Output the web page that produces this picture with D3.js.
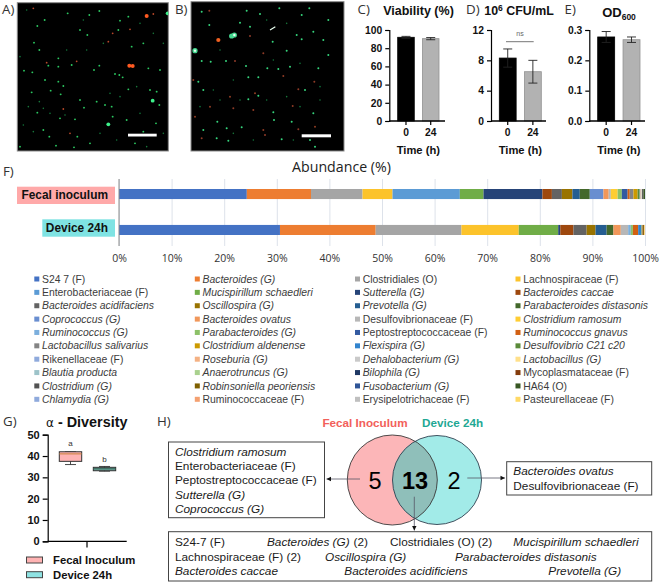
<!DOCTYPE html>
<html><head><meta charset="utf-8">
<script src="https://cdnjs.cloudflare.com/ajax/libs/d3/7.8.5/d3.min.js"></script>
<style>html,body{margin:0;padding:0;background:#fff}svg{display:block}text{font-family:"Liberation Sans",Arial,sans-serif}</style>
</head><body><svg id="c" width="661" height="583"></svg>
<script>
// ---------- data ----------
const timeCategories = ["0","24"];
const viabilityValues = [92,90.5];
const viabilityErrors = [1,1.2];
const viabilityTicks = [0,20,40,60,80,100];
const cfuValues = [8.3,6.5];
const cfuErrors = [1.2,1.5];
const cfuTicks = [0,4,8,12];
const odValues = [0.277,0.268];
const odErrors = [0.018,0.009];
const odTicks = [0,0.1,0.2,0.3];
const samples = ["Fecal inoculum","Device 24h"];
const species = ["S24 7 (F)","Bacteroides (G)","Clostridiales (O)","Lachnospiraceae (F)","Enterobacteriaceae (F)","Mucispirillum schaedleri","Sutterella (G)","Bacteroides caccae","Bacteroides acidifaciens","Oscillospira (G)","Prevotella (G)","Parabacteroides distasonis","Coprococcus (G)","Bacteroides ovatus","Desulfovibrionaceae (F)","Clostridium ramosum","Ruminococcus (G)","Parabacteroides (G)","Peptostreptococcaceae (F)","Ruminococcus gnavus","Lactobacillus salivarius","Clostridium aldenense","Flexispira (G)","Desulfovibrio C21 c20","Rikenellaceae (F)","Roseburia (G)","Dehalobacterium (G)","Lactobacillus (G)","Blautia producta","Anaerotruncus (G)","Bilophila (G)","Mycoplasmataceae (F)","Clostridium (G)","Robinsoniella peoriensis","Fusobacterium (G)","HA64 (O)","Chlamydia (G)","Ruminococcaceae (F)","Erysipelotrichaceae (F)","Pasteurellaceae (F)"];
const uprightSpecies = ["S24 7 (F)","Clostridiales (O)","Lachnospiraceae (F)","Enterobacteriaceae (F)","Desulfovibrionaceae (F)","Peptostreptococcaceae (F)","Rikenellaceae (F)","Mycoplasmataceae (F)","HA64 (O)","Ruminococcaceae (F)","Erysipelotrichaceae (F)","Pasteurellaceae (F)"];
const fecalAbundance = [24.3,12.2,9.8,5.7,12.8,4.5,11.2,1.8,1.9,2.0,1.4,1.9,2.6,1.0,0.4,1.3,0,0.8,1.1,0.4,0.7,0.8,0,0.4,0.15,0.1,0.1,0.05,0.05,0,0,0,0.25,0,0,0.3,0,0,0,0];
const deviceAbundance = [30.6,18.2,16.3,10.9,0,7.5,0.4,2.5,2.5,1.7,2.1,1.3,0,1.4,1.4,0,0.5,0.4,0,1.0,0,0,0.6,0.1,0,0,0,0.1,0,0,0,0.1,0,0.2,0,0,0,0.1,0,0.1];
const speciesColors = ["#4472c4","#ed7d31","#a5a5a5","#fcc32b","#5b9bd5","#70ad47","#264478","#9e480e","#636363","#997300","#255e91","#43682b","#698ed0","#f1975a","#b7b7b7","#ffcd33","#7cafdd","#8cc168","#335aa1","#d26012","#848484","#cc9a00","#3284ce","#5a8a39","#8faadc","#f4b183","#c9c9c9","#ffe08a","#9dc3c9","#a9d18e","#1f3864","#843c0c","#525252","#7f6000","#2f5597","#385723","#8faadc","#f4a070","#bfbfbf","#ffd966"];
const abundanceTicks = [0,10,20,30,40,50,60,70,80,90,100];
const diversityTicks = [0,10,20,30,40,50];
const fecalBox = {low:36,q1:37.5,median:41,q3:42,high:42};
const deviceBox = {low:32.9,q1:33.1,median:34,q3:34.7,high:35.1};
const greenSpotsA = [[203,40],[298,33],[268,45],[134,60],[112,78],[240,90],[262,105],[355,90],[102,128],[118,150],[175,175],[145,197],[175,200],[215,195],[282,210],[298,197],[345,222],[358,225],[72,212],[97,217],[175,245],[190,258],[152,272],[182,283],[95,277],[290,305],[252,323],[315,315],[335,320],[338,350],[380,360],[225,358],[135,240],[112,338],[148,410],[232,410],[270,430],[168,437],[222,442],[405,430],[478,315],[468,370],[470,275],[450,270],[430,130],[395,140],[368,232],[385,268],[445,205],[480,210],[360,62],[385,50],[240,300],[180,355],[130,390],[430,395],[60,440]];
const dimGreenSpotsA = [[118,305],[130,325],[85,320],[195,345],[70,375],[100,395],[200,150],[260,150],[310,130],[420,70],[460,100],[80,30],[60,170],[150,340],[250,60],[330,280],[360,290],[420,340],[300,400],[350,420],[440,440],[490,400],[490,130],[410,260]];
const bigGreenSpotsA = [[325,373],[458,302],[503,40]];
const redSpotsA = [[230,184],[140,188],[100,25],[390,88],[460,42],[210,400],[190,327],[338,100],[325,125]];
const bigRedSpotsA = [[440,48],[388,197],[398,198]];
const greenSpotsB = [[802,205],[740,32],[780,42],[838,25],[905,45],[928,25],[605,35],[628,75],[720,68],[750,80],[890,105],[905,118],[860,152],[818,125],[678,183],[738,198],[610,270],[595,245],[605,183],[632,185],[745,232],[775,232],[745,298],[775,287],[835,207],[915,270],[820,337],[822,360],[875,365],[940,340],[845,418],[930,420],[945,440],[725,382],[652,365],[680,385],[610,390],[970,120],[985,60],[985,165],[940,95],[870,200],[955,205],[650,415],[685,422]];
const dimGreenSpotsB = [[660,150],[700,240],[640,270],[660,300],[600,320],[720,300],[800,300],[860,290],[900,320],[960,300],[880,420],[760,420],[700,400],[820,180],[900,190],[960,260],[800,60],[860,70]];
const bigGreenSpotsB = [[585,152],[703,105],[695,108]];
const redSpotsB = [[580,240],[628,32],[705,183],[690,290],[760,330],[850,228],[878,318],[895,268],[943,245],[790,390],[795,405],[945,380],[895,388],[630,320],[585,350],[605,415],[790,160],[750,108],[765,280],[700,325]];
const bigRedSpotsB = [[655,120]];
const whiteCoresB = [[585,152],[703,105]];
const streaksB = [[[810,90],[826,80]]];
const leftVennList = [["Clostridium ramosum",1],["Enterobacteriaceae (F)",0],["Peptostreptococcaceae (F)",0],["Sutterella (G)",1],["Coprococcus (G)",1]];
const rightVennList = [["Bacteroides ovatus",1],["Desulfovibrionaceae (F)",0]];
const sharedVennList = [[["S24-7 (F)",0,175],["Bacteroides (G)",1,267],["(2)",0,353.5],["Clostridiales (O) (2)",0,390],["Mucispirillum schaedleri",1,513.3]],
 [["Lachnospiraceae (F) (2)",0,175],["Oscillospira (G)",1,325],["Parabacteroides distasonis",1,455]],
 [["Bacteroides caccae",1,175],["Bacteroides acidificiens",1,344.3],["Prevotella (G)",1,548.3]]];
const vennCounts = [5,13,2];

// ---------- drawing ----------
const svg = d3.select("#c");
const dark = "#333";
function label(t,x,y){svg.append("text").attr("x",x).attr("y",y).style("font-family","'Open Sans'").attr("font-size",13.3).attr("fill",dark).text(t);}
label("A)",2,14);label("B)",175,14);label("C)",357.5,14);label("D)",466,14);label("E)",564.5,14);label("F)",3,175.5);label("G)",3,426);label("H)",157,426);

// micrographs
const defs = svg.append("defs");
defs.append("filter").attr("id","soft").append("feGaussianBlur").attr("stdDeviation",0.4);
defs.append("clipPath").attr("id","clipA").append("rect").attr("x",17.3).attr("y",2.7).attr("width",151).attr("height",148.3);
defs.append("clipPath").attr("id","clipB").append("rect").attr("x",191).attr("y",1.7).attr("width",153).attr("height",149.3);
const zx = d3.scaleLinear().domain([0,990]).range([0,330]), zy = d3.scaleLinear().domain([0,480]).range([0,160]);
function micrograph(x,y,w,h,clip,groups,bar){
  svg.append("rect").attr("x",x).attr("y",y).attr("width",w).attr("height",h).attr("fill","#000").attr("stroke","#8a8a8a").attr("stroke-width",1);
  const g = svg.append("g").attr("clip-path",`url(#${clip})`).append("g").attr("filter","url(#soft)");
  groups.forEach(([pts,col,r])=>g.selectAll(null).data(pts).join("circle").attr("cx",d=>zx(d[0])).attr("cy",d=>zy(d[1])).attr("r",r).attr("fill",col));
  svg.append("rect").attr("x",bar[0]).attr("y",bar[1]).attr("width",bar[2]).attr("height",bar[3]).attr("fill","#fff");
}
micrograph(17.3,2.7,151,148.3,"clipA",[[dimGreenSpotsA,"#17763a",0.8],[greenSpotsA,"#2cc860",0.95],[bigGreenSpotsA,"#3cf08a",1.9],[redSpotsA,"#b8482a",0.9],[bigRedSpotsA,"#ff5a20",2]],[128,133.7,28.7,2.8]);
micrograph(191,1.7,153,149.3,"clipB",[[dimGreenSpotsB,"#17763a",0.8],[greenSpotsB,"#35d47c",1],[bigGreenSpotsB,"#45d890",2.6],[whiteCoresB,"#e8fff0",1.2],[redSpotsB,"#8e3a26",1],[bigRedSpotsB,"#f06020",2.1]],[301.7,134.3,29.3,3]);
streaksB.forEach(s=>svg.append("line").attr("x1",zx(s[0][0])).attr("y1",zy(s[0][1])).attr("x2",zx(s[1][0])).attr("y2",zy(s[1][1])).attr("stroke","#eafff0").attr("stroke-width",1.2));

// bar panels
function barPanel(o){
  const y = d3.scaleLinear().domain(o.domain).range([121,30]);
  const x = d3.scaleBand().domain(timeCategories).range([o.barStart,o.barEnd]).paddingInner(0.33);
  const g = svg.append("g");
  g.selectAll(null).data(o.values).join("rect").attr("x",(d,i)=>x(timeCategories[i])).attr("y",d=>y(d)).attr("width",x.bandwidth()).attr("height",d=>121-y(d))
    .attr("fill",(d,i)=>i?"#b2b2b2":"#000").attr("stroke",(d,i)=>i?"#929292":"#000").attr("stroke-width",0.8);
  o.values.forEach((v,i)=>{
    const cx=x(timeCategories[i])+x.bandwidth()/2, hi=y(v+o.errors[i]), lo=y(v-o.errors[i]), c="#222";
    g.append("line").attr("x1",cx).attr("x2",cx).attr("y1",hi).attr("y2",lo).attr("stroke",c).attr("stroke-width",0.9);
    [hi,lo].forEach(t=>g.append("line").attr("x1",cx-4.5).attr("x2",cx+4.5).attr("y1",t).attr("y2",t).attr("stroke",c).attr("stroke-width",0.9));
  });
  const ya = svg.append("g").attr("transform",`translate(${o.axisX},0)`).call(d3.axisLeft(y).tickValues(o.ticks).tickSize(4).tickPadding(3).tickFormat(o.fmt));
  const xa = svg.append("g").attr("transform","translate(0,121)").call(d3.axisBottom(x).tickSize(4).tickPadding(4));
  xa.select(".domain").remove();
  svg.append("line").attr("x1",o.axisX).attr("x2",o.axisEnd).attr("y1",121).attr("y2",121).attr("stroke","#000").attr("stroke-width",1.3);
  [ya,xa].forEach(a=>{a.selectAll("text").attr("font-size",10.3).attr("font-weight","bold").attr("fill","#111").style("font-family","'Liberation Sans'");a.selectAll("line,.domain").attr("stroke","#000").attr("stroke-width",1.2);});
  svg.append("text").attr("x",(o.barStart+o.barEnd)/2).attr("y",154).attr("text-anchor","middle").attr("font-size",11.2).attr("font-weight","bold").attr("fill","#111").text("Time (h)");
}
barPanel({values:viabilityValues,errors:viabilityErrors,ticks:viabilityTicks,domain:[0,100],axisX:389.3,axisEnd:445,barStart:397.7,barEnd:439,fmt:d=>d});
barPanel({values:cfuValues,errors:cfuErrors,ticks:cfuTicks,domain:[0,12],axisX:491,axisEnd:546,barStart:499.3,barEnd:541.3,fmt:d=>d});
barPanel({values:odValues,errors:odErrors,ticks:odTicks,domain:[0,0.3],axisX:589.3,axisEnd:645,barStart:597.7,barEnd:640,fmt:d3.format(".1f")});
svg.append("text").attr("x",418.5).attr("y",14.5).attr("text-anchor","middle").attr("font-size",12.5).attr("font-weight","bold").attr("fill","#111").text("Viability (%)");
const cfuT=svg.append("text").attr("x",519).attr("y",14.5).attr("text-anchor","middle").attr("font-size",12.4).attr("font-weight","bold").attr("fill","#111");
cfuT.append("tspan").text("10");cfuT.append("tspan").attr("dy",-4).attr("font-size",8.5).text("6");cfuT.append("tspan").attr("dy",4).text(" CFU/mL");
const odT=svg.append("text").attr("x",619).attr("y",17).attr("text-anchor","middle").attr("font-size",13).attr("font-weight","bold").attr("fill","#111");
odT.append("tspan").text("OD");odT.append("tspan").attr("dy",3).attr("font-size",8.5).text("600");
svg.append("line").attr("x1",506).attr("x2",533.7).attr("y1",41.7).attr("y2",41.7).attr("stroke","#777").attr("stroke-width",1);
svg.append("text").attr("x",520).attr("y",36).attr("text-anchor","middle").attr("font-size",7).attr("fill","#666").text("ns");

// stacked bars
svg.append("text").attr("x",341.5).attr("y",172).attr("text-anchor","middle").style("font-family","'Open Sans'").attr("font-size",14.2).attr("fill","#222").text("Abundance (%)");
const ax = d3.scaleLinear().domain([0,100]).range([119,645]);
const ay = d3.scaleBand().domain(samples).range([189,235]).paddingInner(0.72);
const rows = samples.map((s,i)=>{const r={sample:s};species.forEach((k,j)=>r[k]=(i?deviceAbundance:fecalAbundance)[j]);return r;});
const stacked = d3.stack().keys(species)(rows);
const fa = svg.append("g").attr("transform","translate(0,246)").call(d3.axisBottom(ax).tickValues(abundanceTicks).tickSize(-67).tickPadding(9).tickFormat(d=>d+"%"));
fa.select(".domain").remove();
fa.selectAll("line").attr("stroke","#dde2ea").attr("stroke-width",1);
fa.selectAll("text").style("font-family","'Open Sans'").attr("font-size",10.5).attr("fill","#333");
stacked.forEach((layer,i)=>svg.append("g").selectAll("rect").data(layer).join("rect").attr("x",d=>ax(d[0])).attr("y",d=>ay(d.data.sample)).attr("width",d=>Math.max(0,ax(d[1])-ax(d[0]))).attr("height",ay.bandwidth()).attr("fill",speciesColors[i]));
svg.append("line").attr("x1",119).attr("x2",119).attr("y1",179).attr("y2",246).attr("stroke","#8a8a8a").attr("stroke-width",1);
[["Fecal inoculum",17,186.7,98,17.3,"#ffa9a9"],["Device 24h",42.3,219.3,72.7,17.4,"#7fe3e3"]].forEach(([t,x,y,w,h,c])=>{
  svg.append("rect").attr("x",x).attr("y",y).attr("width",w).attr("height",h).attr("fill",c);
  svg.append("text").attr("x",108).attr("y",y+h/2+4).attr("text-anchor","end").attr("font-size",11.9).attr("font-weight","bold").attr("fill","#111").text(t);
});
// legend
const lcol=[34.3,194.8,355,515.5], lrow=d3.scaleLinear().domain([0,9]).range([279,399.3]);
const lg = svg.append("g").selectAll("g").data(species).join("g").attr("transform",(d,i)=>`translate(${lcol[i%4]},${lrow(Math.floor(i/4))})`);
lg.append("rect").attr("y",-2.5).attr("width",5).attr("height",5).attr("fill",(d,i)=>speciesColors[i]);
lg.append("text").attr("x",7.7).attr("y",3.6).attr("font-size",10.4).attr("fill","#3c3c3c").attr("font-style",d=>uprightSpecies.includes(d)?"normal":"italic").text(d=>d);

// box plot
const dy = d3.scaleLinear().domain([0,50]).range([541.3,434.7]);
const boxes = [[fecalBox,70.5,"#ffb3b3","a",443,"#c8803c"],[deviceBox,104.5,"#6fa89f","b",459,"#2f5f50"]];
boxes.forEach(([b,cx,c,t,ty,mc])=>{
  const g=svg.append("g"),hw=11.2,s="#333";
  g.append("line").attr("x1",cx).attr("x2",cx).attr("y1",dy(b.low)).attr("y2",dy(b.high)).attr("stroke",s).attr("stroke-width",0.9);
  [b.low,b.high].forEach(v=>g.append("line").attr("x1",cx-5.5).attr("x2",cx+5.5).attr("y1",dy(v)).attr("y2",dy(v)).attr("stroke",s).attr("stroke-width",0.9));
  g.append("rect").attr("x",cx-hw).attr("y",dy(b.q3)).attr("width",2*hw).attr("height",dy(b.q1)-dy(b.q3)).attr("fill",c).attr("stroke",s).attr("stroke-width",1);
  g.append("line").attr("x1",cx-hw).attr("x2",cx+hw).attr("y1",dy(b.median)).attr("y2",dy(b.median)).attr("stroke",mc).attr("stroke-width",1);
  svg.append("text").attr("x",cx).attr("y",ty+3).attr("text-anchor","middle").attr("font-size",8).attr("fill","#333").text(t);
});
const da = svg.append("g").attr("transform","translate(47.7,0)").call(d3.axisLeft(dy).tickValues(diversityTicks).tickSize(5).tickPadding(3));
da.selectAll("text").attr("font-size",11).attr("font-weight","bold").attr("fill","#111").style("font-family","'Liberation Sans'");
da.selectAll("line,.domain").attr("stroke","#000").attr("stroke-width",1.2);
svg.append("line").attr("x1",47.7).attr("x2",126.7).attr("y1",541.3).attr("y2",541.3).attr("stroke","#000").attr("stroke-width",1.2);
svg.append("line").attr("x1",87).attr("x2",87).attr("y1",541.3).attr("y2",547.5).attr("stroke","#000").attr("stroke-width",1.2);
const gt=svg.append("text").attr("x",46).attr("y",427).attr("font-size",14.4).attr("fill","#111");
gt.append("tspan").style("font-family","'DejaVu Sans'").attr("font-size",12).text("α");gt.append("tspan").attr("font-weight","bold").text(" - Diversity");
[["Fecal Inoculum",557,"#ffb3b3"],["Device 24h",571.7,"#8fe3e3"]].forEach(([t,y,c])=>{
  svg.append("rect").attr("x",26.5).attr("y",y).attr("width",16).attr("height",6).attr("fill",c).attr("stroke","#444").attr("stroke-width",1);
  svg.append("text").attr("x",53).attr("y",y+7.3).attr("font-size",11.3).attr("font-weight","bold").attr("fill","#111").text(t);
});

// venn
const cL={x:392.3,y:480,r:45}, cR={x:437,y:480,r:44.5};
defs.append("clipPath").attr("id","clipL").append("circle").attr("cx",cL.x).attr("cy",cL.y).attr("r",cL.r);
svg.append("circle").attr("cx",cL.x).attr("cy",cL.y).attr("r",cL.r).attr("fill","#fcb6b8");
svg.append("circle").attr("cx",cR.x).attr("cy",cR.y).attr("r",cR.r).attr("fill","#a2ebe8");
svg.append("circle").attr("cx",cR.x).attr("cy",cR.y).attr("r",cR.r).attr("fill","#8fbfba").attr("clip-path","url(#clipL)");
svg.append("circle").attr("cx",cL.x).attr("cy",cL.y).attr("r",cL.r).attr("fill","none").attr("stroke","#3a3a3a").attr("stroke-width",0.9);
svg.append("circle").attr("cx",cR.x).attr("cy",cR.y).attr("r",cR.r).attr("fill","none").attr("stroke","#2f3f4f").attr("stroke-width",0.9);
svg.append("text").attr("x",365).attr("y",427).attr("text-anchor","middle").attr("font-size",11.7).attr("font-weight","bold").attr("fill","#f2605a").text("Fecal Inoculum");
svg.append("text").attr("x",452.5).attr("y",427).attr("text-anchor","middle").attr("font-size",11.7).attr("font-weight","bold").attr("fill","#1fa894").text("Device 24h");
[[375,0],[415,1],[454,0]].forEach(([x,b],i)=>svg.append("text").attr("x",x).attr("y",488.5).attr("text-anchor","middle").attr("font-size",23.5).attr("font-weight",b?"bold":"normal").attr("fill","#000").text(vennCounts[i]));
function box(x,y,w,h){svg.append("rect").attr("x",x).attr("y",y).attr("width",w).attr("height",h).attr("fill","#fff").attr("stroke","#444").attr("stroke-width",1);}
function txt(t,x,y,it){svg.append("text").attr("x",x).attr("y",y).attr("font-size",11.8).attr("fill","#1a1a1a").attr("font-style",it?"italic":"normal").text(t);}
box(168.5,442,156,75.7);box(506.7,461.7,145,33.3);box(168.5,531.7,483.2,49.3);
leftVennList.forEach(([t,it],i)=>txt(t,175,455.8+i*14.33,it));
rightVennList.forEach(([t,it],i)=>txt(t,513.3,475.4+i*14.33,it));
sharedVennList.forEach((row,i)=>row.forEach(([t,it,x])=>txt(t,x,546.4+i*14.33,it)));
function arrow(x1,y1,x2,y2){
  svg.append("line").attr("x1",x1).attr("y1",y1).attr("x2",x2).attr("y2",y2).attr("stroke","#556").attr("stroke-width",0.8);
  const a=Math.atan2(y2-y1,x2-x1),l=4.5,w=2.2;
  svg.append("path").attr("d",`M${x2},${y2}L${x2-l*Math.cos(a)+w*Math.sin(a)},${y2-l*Math.sin(a)-w*Math.cos(a)}L${x2-l*Math.cos(a)-w*Math.sin(a)},${y2-l*Math.sin(a)+w*Math.cos(a)}Z`).attr("fill","#111");
}
arrow(360,479,326.5,479);arrow(467.3,478,505,478);arrow(414.3,496.7,414.3,530.5);
</script></body></html>
